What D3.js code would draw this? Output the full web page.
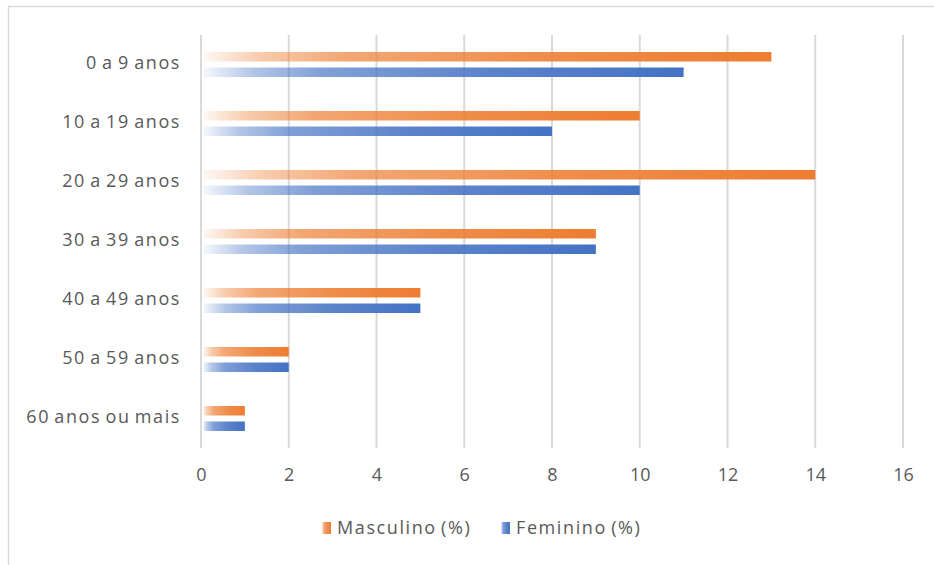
<!DOCTYPE html>
<html>
<head>
<meta charset="utf-8">
<script src="https://cdn.jsdelivr.net/npm/d3@7"></script>
<style>
  html, body { margin: 0; padding: 0; background: #fff; }
  svg { display: block; font-family: "Open Sans", sans-serif; }
</style>
</head>
<body>
<svg id="chart" width="934" height="565"></svg>
<script>
// Age groups (top to bottom) and the share of each sex per group
const categories = ["0 a 9 anos", "10 a 19 anos", "20 a 29 anos", "30 a 39 anos",
                    "40 a 49 anos", "50 a 59 anos", "60 anos ou mais"];
const masculino = [13, 10, 14, 9, 5, 2, 1];
const feminino  = [11, 8, 10, 9, 5, 2, 1];
const seriesNames = ["Masculino (%)", "Feminino (%)"];
const seriesColors = ["#ED7D31", "#4472C4"];
const xTicks = [0, 2, 4, 6, 8, 10, 12, 14, 16];

const svg = d3.select("#chart");
const textColor = "#595959";
const gridColor = "#d9d9d9";

// chart frame
svg.append("rect")
  .attr("x", 8.5).attr("y", 6.5)
  .attr("width", 1000).attr("height", 1000)
  .attr("fill", "none").attr("stroke", gridColor).attr("stroke-width", 1.5);

// left-to-right fading gradient per series
const defs = svg.append("defs");
seriesColors.forEach((c, i) => {
  const g = defs.append("linearGradient")
    .attr("id", "grad" + i)
    .attr("x1", "0").attr("y1", "0").attr("x2", "1").attr("y2", "0");
  [[0, 0.05], [0.1, 0.4], [0.25, 0.68], [0.6, 0.88], [1, 1]].forEach(([o, a]) => {
    g.append("stop").attr("offset", o).attr("stop-color", c).attr("stop-opacity", a);
  });
});

const x = d3.scaleLinear().domain([0, 16]).range([201, 903]);
const y = d3.scaleBand().domain(categories).range([35, 448])
  .paddingInner(0.576).paddingOuter(0.288);
const ySub = d3.scaleBand().domain([0, 1]).range([0, y.bandwidth()])
  .paddingInner(0.387).paddingOuter(0);

// vertical gridlines
svg.append("g").selectAll("line").data(xTicks).join("line")
  .attr("x1", d => x(d)).attr("x2", d => x(d))
  .attr("y1", 35).attr("y2", 448)
  .attr("stroke", gridColor).attr("stroke-width", 2);

// x tick labels
const xAxis = d3.axisBottom(x).tickValues(xTicks).tickSize(0).tickPadding(0);
const xg = svg.append("g").attr("transform", "translate(0,472)").call(xAxis);
xg.select(".domain").remove();
xg.selectAll("text")
  .attr("fill", textColor).attr("font-size", 18)
  .attr("font-family", "'Open Sans', sans-serif").attr("dy", "0.5em");

// category labels
const yAxis = d3.axisLeft(y).tickSize(0).tickPadding(0);
const yg = svg.append("g").attr("transform", "translate(181,0)").call(yAxis);
yg.select(".domain").remove();
yg.selectAll("text")
  .attr("fill", textColor).attr("font-size", 18)
  .attr("font-family", "'Open Sans', sans-serif")
  .style("letter-spacing", "1.6px").style("word-spacing", "-2px")
  .attr("dy", "0.25em");

// bars
const rows = categories.map((c, i) => ({ cat: c, vals: [masculino[i], feminino[i]] }));
const groups = svg.append("g").selectAll("g").data(rows).join("g")
  .attr("transform", d => `translate(0,${y(d.cat)})`);
groups.selectAll("rect").data(d => d.vals.map((v, s) => ({ v, s }))).join("rect")
  .attr("x", x(0) + 2)
  .attr("y", d => ySub(d.s))
  .attr("width", d => x(d.v) - x(0) - 2)
  .attr("height", ySub.bandwidth())
  .attr("fill", d => `url(#grad${d.s})`);

// legend
const legendX = [322, 501];
const legend = svg.append("g").selectAll("g").data(seriesNames).join("g")
  .attr("transform", (d, i) => `translate(${legendX[i]},528)`);
legend.append("rect")
  .attr("x", 0).attr("y", -6).attr("width", 9).attr("height", 12)
  .attr("fill", (d, i) => `url(#grad${i})`);
legend.append("text")
  .attr("x", 15).attr("y", 0).attr("dy", "0.35em")
  .attr("fill", textColor).attr("font-size", 18)
  .style("letter-spacing", "1.6px").style("word-spacing", "-2px")
  .text(d => d);
</script>
</body>
</html>
